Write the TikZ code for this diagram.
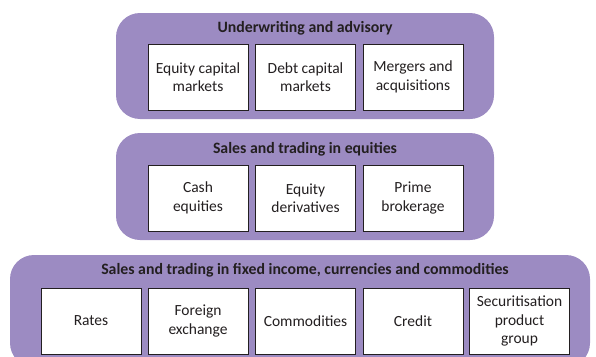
\documentclass[tikz,border=0pt]{standalone}
\usepackage{fontspec}
\setmainfont{Carlito}
\definecolor{panelpurple}{RGB}{156,139,194}
\definecolor{inkgray}{RGB}{35,31,32}
\begin{document}
\begin{tikzpicture}[x=1pt,y=-1pt,
  panel/.style={fill=panelpurple, draw=none, rounded corners=24pt, inner sep=0pt},
  unit/.style={draw=inkgray, fill=white, line width=0.9pt, inner sep=0pt,
    minimum width=100pt, minimum height=66pt, align=center, text=inkgray,
    font=\fontsize{15.5}{18.5}\selectfont},
  ptitle/.style={text=inkgray, font=\fontsize{15.8}{18}\selectfont\bfseries, inner sep=0pt}]
\useasboundingbox (0,0) rectangle (596,356);
\clip (0,0) rectangle (596,356);
% panels
\node[panel, minimum width=378pt, minimum height=106pt] (p1) at (305,66) {};
\node[panel, minimum width=378pt, minimum height=107pt] (p2) at (305,186.5) {};
\node[panel, minimum width=580pt, minimum height=112pt] (p3) at (300,311) {};
% titles
\node[ptitle] (t1) at (305,28) {Underwriting and advisory};
\node[ptitle] (t2) at (305,149) {Sales and trading in equities};
\node[ptitle] (t3) at (305,270) {Sales and trading in fixed income, currencies and commodities};
% top boxes
\node[unit] (a1) at (198,77) {Equity capital\\markets};
\node[unit] (a2) at (305.5,77) {Debt capital\\markets};
\node[unit] (a3) at (413,77) {Mergers and\\acquisitions};
% middle boxes
\node[unit] (b1) at (198,198) {Cash\\equities};
\node[unit] (b2) at (305.5,198) {Equity\\derivatives};
\node[unit] (b3) at (413,198) {Prime\\brokerage};
% bottom boxes
\node[unit] (c1) at (91,321) {Rates};
\node[unit] (c2) at (198,321) {Foreign\\exchange};
\node[unit] (c3) at (305.5,321) {Commodities};
\node[unit] (c4) at (413,321) {Credit};
\node[unit] (c5) at (519.5,321) {Securitisation\\product\\group};
\end{tikzpicture}
\end{document}
